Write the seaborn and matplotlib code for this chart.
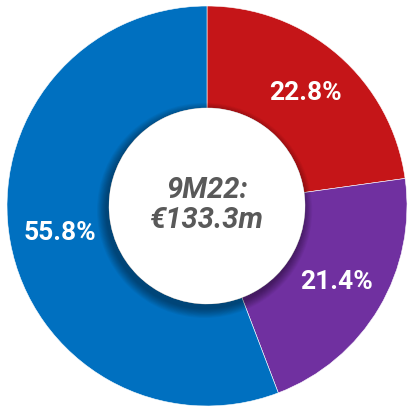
import numpy as np
import matplotlib
matplotlib.use("Agg")
import matplotlib.pyplot as plt
import seaborn as sns
from matplotlib.patches import Circle

# Data
segments = ['Red', 'Purple', 'Blue']
shares = [22.8, 21.4, 55.8]
colors = ['#C51518', '#7030A0', '#0070C0']
center_text = '9M22:\n€133.3m'

sns.set_theme(style='white')
plt.rcParams['font.family'] = ['Roboto', 'DejaVu Sans']

fig = plt.figure(figsize=(4.16, 4.08), dpi=100)
ax = fig.add_axes([0, 0, 1, 1])

wedges, texts, autotexts = ax.pie(
    shares, colors=colors, startangle=90, counterclock=False,
    radius=1.0, autopct='%1.1f%%', pctdistance=0.75,
    wedgeprops=dict(width=0.51, edgecolor='white', linewidth=0.4),
    textprops=dict(color='white', fontsize=19, fontweight='bold'))

# soft shadow around the hole
inner_r = 0.49
for i in range(12):
    ax.add_patch(Circle((-0.012, -0.022), inner_r + 0.004 * (12 - i),
                        color='black', alpha=0.035, lw=0, zorder=2))
ax.add_patch(Circle((0, 0), inner_r, color='white', lw=0, zorder=3))

ax.text(0, 0.005, center_text, ha='center', va='center', fontsize=21,
        fontweight='bold', fontstyle='italic', color='#595959',
        linespacing=1.05, zorder=4)

ax.set_xlim(-1.035, 1.045)
ax.set_ylim(-1.01, 1.03)
ax.set_aspect('auto')
ax.axis('off')

fig.savefig('out.png', dpi=100)
